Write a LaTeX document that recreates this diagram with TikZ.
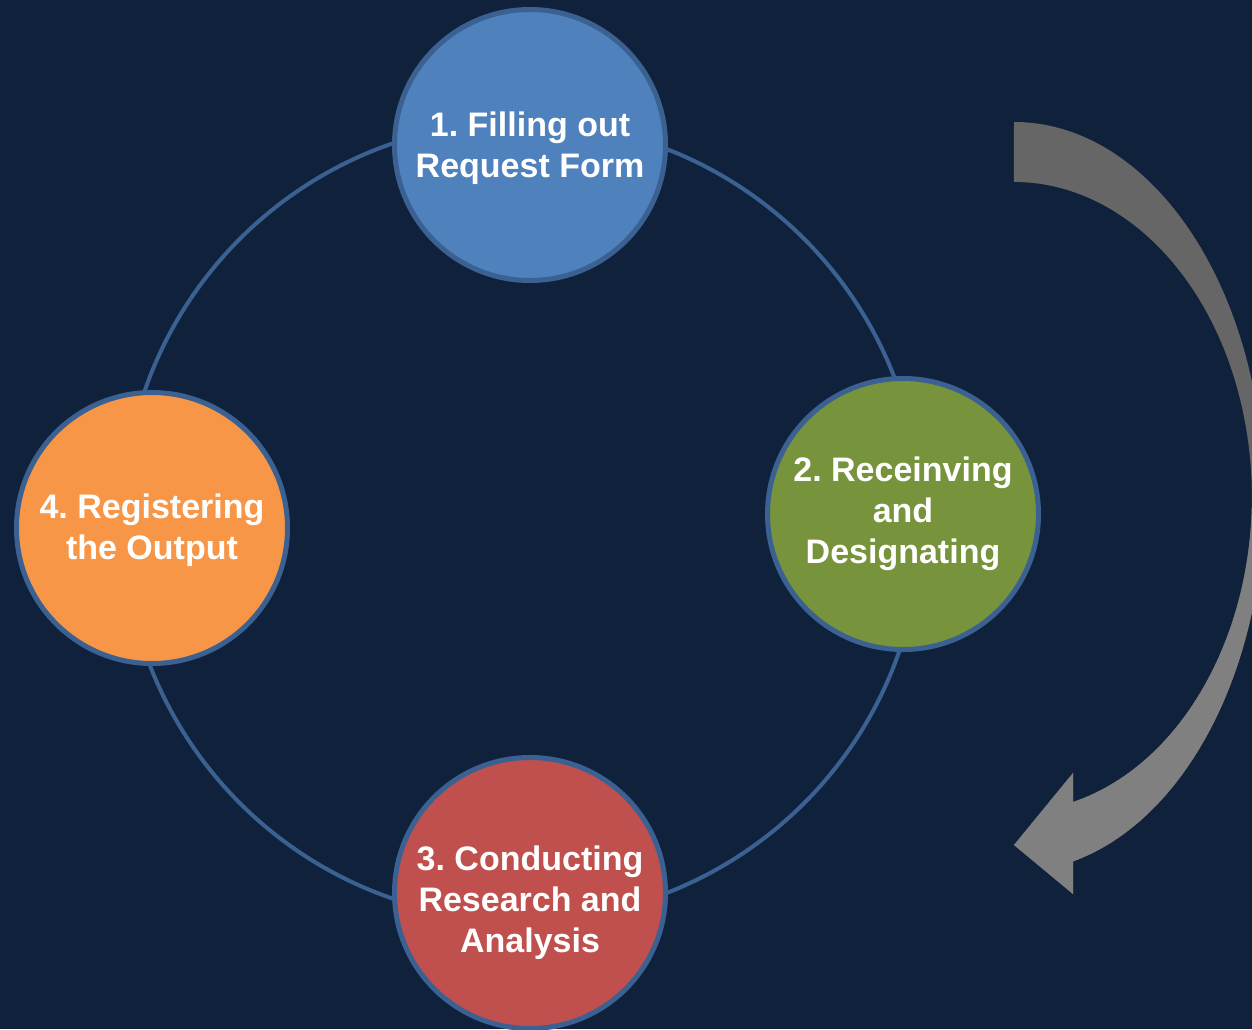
\documentclass[tikz,border=0pt]{standalone}
\usepackage{fontspec}
\setmainfont{Liberation Sans}
\frenchspacing
\usepackage{tikz}
\usetikzlibrary{backgrounds}
\definecolor{bgnavy}{HTML}{10223B}
\definecolor{ringblue}{HTML}{3A6191}
\definecolor{stepblue}{HTML}{4F81BD}
\definecolor{stepgreen}{HTML}{77933C}
\definecolor{stepred}{HTML}{C0504D}
\definecolor{steporange}{HTML}{F79646}
\definecolor{arrowdark}{HTML}{666666}
\definecolor{arrowlight}{HTML}{808080}

\begin{document}
\begin{tikzpicture}[x=1pt,y=-1pt,
		stepnode/.style={circle, draw=ringblue, line width=5pt, minimum size=271pt, inner sep=0pt,
			align=center, text=white, font=\fontsize{34}{41}\selectfont\bfseries},
		ringline/.style={draw=ringblue, line width=4pt}]
	\useasboundingbox (0,0) rectangle (1252,1029);
	\coordinate (hub) at (522,521);
	\node[stepnode, fill=stepblue] (S1) at (530,145) {\rule{0pt}{31pt}1. Filling out\\Request Form};
	\node[stepnode, fill=stepgreen] (S2) at (903,514) {2. Receinving\\and\\Designating};
	\node[stepnode, fill=stepred] (S3) at (530,893) {\rule{0pt}{44pt}3. Conducting\\Research and\\Analysis};
	\node[stepnode, fill=steporange] (S4) at (152,528) {\rule{0pt}{30pt}4. Registering\\the Output};
	\begin{scope}[on background layer]
		\fill[bgnavy] (0,0) rectangle (1252,1029);
		\draw[ringline] (hub) circle[radius=399];
	\end{scope}
	\fill[arrowdark, path picture={\fill[arrowlight] (path picture bounding box.west) rectangle (path picture bounding box.south east);}]
		(1014,122) arc[start angle=-90, end angle=76.35, x radius=250, y radius=375]
		-- (1073,894) -- (1014,845) -- (1073,773) -- (1073,802)
		arc[start angle=75.6, end angle=-90, x radius=238, y radius=315] -- cycle;
\end{tikzpicture}
\end{document}
